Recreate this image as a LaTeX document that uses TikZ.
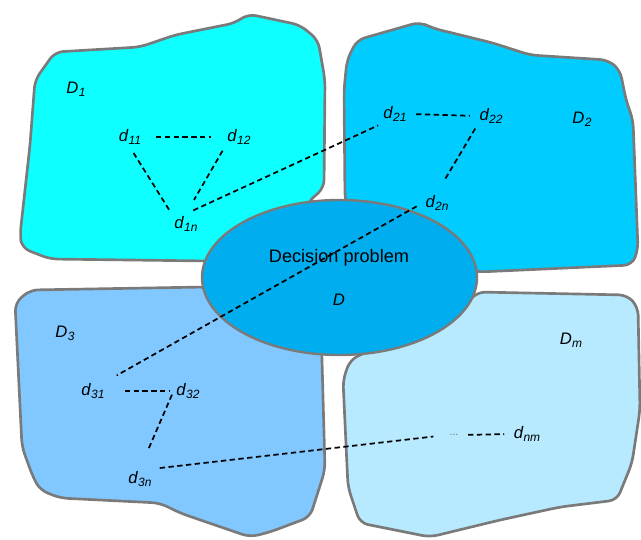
\documentclass[tikz,border=0pt]{standalone}
\usepackage{fontspec}
\setmainfont{Liberation Sans}
\definecolor{regionedge}{HTML}{7A7A7A}
\definecolor{regionone}{HTML}{0DFFFF}
\definecolor{regiontwo}{HTML}{00CCFF}
\definecolor{regionthree}{HTML}{80C8FF}
\definecolor{regionm}{HTML}{B8EAFF}
\definecolor{problemfill}{HTML}{00AEEF}
\definecolor{dotsgrey}{HTML}{707070}
\newcommand{\sublab}[2]{\textit{#1\kern0.3pt\raisebox{-0.3ex}{\fontsize{9}{10}\selectfont #2}}}

\begin{document}
\begin{tikzpicture}[
  x=0.75pt,
  y=-0.75pt,
  every node/.style={font=\fontsize{12.5}{15}\selectfont, black},
  region/.style={draw=regionedge, line width=2pt, rounded corners=6pt},
  problem/.style={draw=regionedge, line width=1.8pt, fill=problemfill},
  itemlab/.style={inner sep=2pt},
  link/.style={black, line width=1.3pt, dash pattern=on 4pt off 2.6pt}
]
  % ---- common bounding box, the size of the reference ----
  \useasboundingbox (0,0) rectangle (641,539);

  % ---- the four sub-problem regions ----
  \draw[region, fill=regionone] (55,52) -- (140,47) -- (175,35) -- (235,23) -- (248,14)
    -- (300,25) -- (318,40) -- (325,80) -- (324,188) -- (308,202) -- (290,262)
    -- (50,259) -- (22,248) -- (20,235) -- (30,145) -- (35,80) -- cycle;
  \draw[region, fill=regiontwo] (357,40) -- (420,22) -- (432,28) -- (493,43) -- (530,55)
    -- (608,60) -- (620,70) -- (626,100) -- (633,120) -- (638,250) -- (632,265)
    -- (478,272) -- (360,245) -- (345,200) -- (344,90) -- (347,60) -- cycle;
  \draw[region, fill=regionthree] (30,290) -- (205,287) -- (320,300) -- (322,360)
    -- (325,470) -- (310,517) -- (270,532) -- (250,537) -- (180,513) -- (160,503)
    -- (60,498) -- (40,490) -- (33,477) -- (22,447) -- (15,303) -- cycle;
  \draw[region, fill=regionm] (350,360) -- (470,300) -- (477,292) -- (627,295)
    -- (638,307) -- (640,410) -- (632,463) -- (617,500) -- (560,507) -- (500,520)
    -- (430,537) -- (360,523) -- (348,487) -- (343,380) -- cycle;

  % ---- the decision problem in the middle ----
  \draw[problem] (339.5,277.5) ellipse [x radius=137.5, y radius=77.5];
  \node[inner sep=0pt, font=\fontsize{13.6}{16}\selectfont] (title) at (339,258) {Decision problem};
  \node[itemlab] (D) at (339,300) {\textit{D}};

  % ---- region names ----
  \node[itemlab] (D1) at (76,89)  {\sublab{D}{1}};
  \node[itemlab] (D2) at (582,119) {\sublab{D}{2}};
  \node[itemlab] (D3) at (65,333) {\sublab{D}{3}};
  \node[itemlab] (Dm) at (571,340) {\sublab{D}{m}};

  % ---- the decision elements ----
  \node[itemlab] (d11) at (130,137) {\sublab{d}{11}};
  \node[itemlab] (d12) at (239,137) {\sublab{d}{12}};
  \node[itemlab] (d1n) at (186,224) {\sublab{d}{1n}};
  \node[itemlab] (d21) at (395,114) {\sublab{d}{21}};
  \node[itemlab] (d22) at (491,116) {\sublab{d}{22}};
  \node[itemlab] (d2n) at (437,203) {\sublab{d}{2n}};
  \node[itemlab] (d31) at (93,391)  {\sublab{d}{31}};
  \node[itemlab] (d32) at (188,391) {\sublab{d}{32}};
  \node[itemlab] (d3n) at (140,479) {\sublab{d}{3n}};
  \node[itemlab, dotsgrey, font=\fontsize{8}{9}\selectfont] (dots) at (454,435) {...};
  \node[itemlab] (dnm) at (527,434) {\sublab{d}{nm}};

  % ---- dashed links between the elements ----
  \draw[link, shorten <=9pt, shorten >=10pt] (d11.east) -- (d12.west);
  \draw[link, shorten <=5pt, shorten >=3pt] (d11.south) -- (d1n.north west);
  \draw[link, shorten <=3pt, shorten >=12pt] (d12.south west) -- (d1n.north);
  \draw[link, shorten <=6pt, shorten >=2pt] (d1n.north) -- (d21.south west);
  \draw[link, shorten <=5pt, shorten >=5pt] (d21.east) -- (d22.west);
  \draw[link, shorten <=2pt, shorten >=11pt] (d22.south west) -- (d2n.north);
  \draw[link, shorten <=5pt, shorten >=8pt] (d2n.west) -- (d31.north east);
  \draw[link, shorten <=13pt, shorten >=3pt] (d31.east) -- (d32.west);
  \draw[link, shorten <=3pt, shorten >=16pt] (d32.west) -- (d3n.north);
  \draw[link, shorten <=4pt, shorten >=10pt] (d3n.north east) -- (dots.west);
  \draw[link, shorten <=5pt, shorten >=5pt] (dots.east) -- (dnm.west);
\end{tikzpicture}
\end{document}
